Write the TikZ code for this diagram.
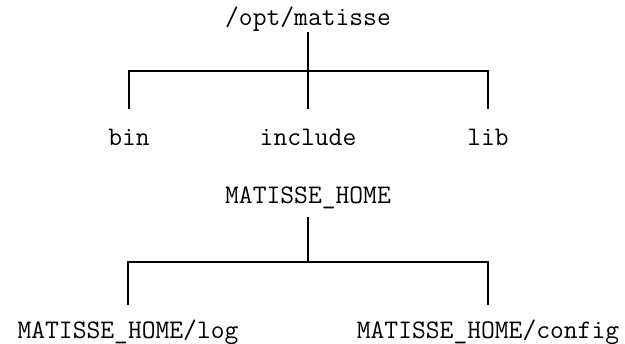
\documentclass[tikz,border=0pt]{standalone}

\begin{document}
\begin{tikzpicture}[x=0.5pt,y=-0.5pt,
    dir/.style={font=\fontsize{13.4}{16}\selectfont\ttfamily,inner sep=0pt,
        text height=7pt,text depth=2pt,anchor=base},
    branch/.style={line width=1.2pt}]
    \useasboundingbox (0,0) rectangle (625,343);

    % /opt/matisse tree
    \node[dir,outer ysep=1.5pt] (opt) at (308,25) {/opt/matisse};
    \coordinate (optjoin) at (308,71);
    \node[dir,outer ysep=11pt] (bin) at (129,145) {bin};
    \node[dir,outer ysep=11pt] (include) at (308,145) {include};
    \node[dir,outer ysep=11pt] (lib) at (488,145) {lib};

    \draw[branch] (opt)--(optjoin);
    \draw[branch] (bin) |- (optjoin) -| (lib);
    \draw[branch] (include)--(optjoin);

    % MATISSE_HOME tree
    \node[dir,outer ysep=5pt] (home) at (308,203) {MATISSE\_HOME};
    \coordinate (homejoin) at (308,262);
    \node[dir,outer ysep=9.5pt] (log) at (128,338) {MATISSE\_HOME/log};
    \node[dir,outer ysep=9.5pt] (config) at (488,338) {MATISSE\_HOME/config};

    \draw[branch] (home)--(homejoin);
    \draw[branch] (log) |- (homejoin) -| (config);

\end{tikzpicture}
\end{document}
